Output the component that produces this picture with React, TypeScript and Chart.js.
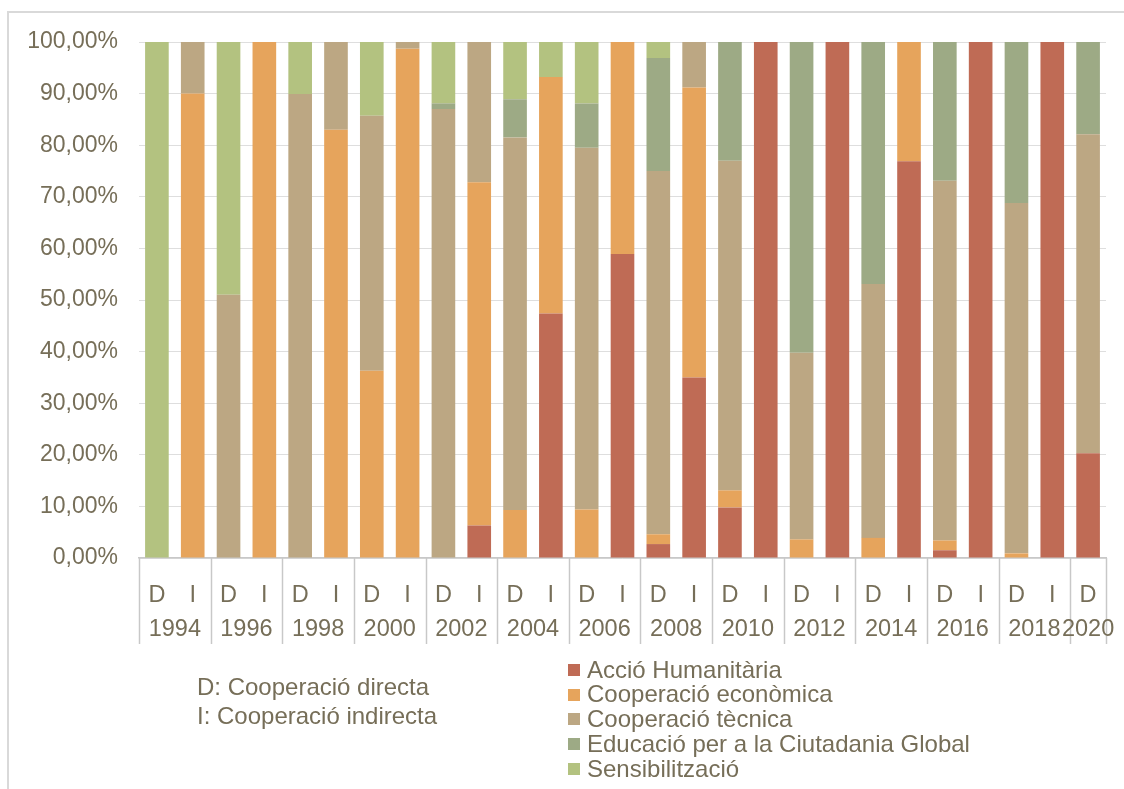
import React, { useEffect, useRef } from "react";
import { Chart, registerables } from "chart.js";

Chart.register(...registerables);

const categories = [
  "D", "I", "D", "I", "D", "I", "D", "I", "D", "I", "D", "I", "D", "I",
  "D", "I", "D", "I", "D", "I", "D", "I", "D", "I", "D", "I", "D",
];
const years = ["1994", "1996", "1998", "2000", "2002", "2004", "2006", "2008", "2010", "2012", "2014", "2016", "2018", "2020"];

const accioHumanitaria = [0, 0, 0, 0, 0, 0, 0, 0, 0, 6.3, 0, 47.4, 0, 58.9, 2.7, 35.0, 9.8, 100, 0, 100, 0, 76.9, 1.5, 100, 0, 100, 20.3];
const cooperacioEconomica = [0, 90.0, 0, 100, 0, 83.0, 36.3, 98.7, 0, 66.5, 9.3, 45.8, 9.4, 41.1, 1.9, 56.2, 3.3, 0, 3.6, 0, 3.9, 23.1, 1.9, 0, 0.9, 0, 0];
const cooperacioTecnica = [0, 10.0, 51.0, 0, 89.9, 17.0, 49.4, 1.3, 87.0, 27.2, 72.2, 0, 70.1, 0, 70.4, 8.8, 63.9, 0, 36.2, 0, 49.2, 0, 69.7, 0, 67.9, 0, 61.8];
const educacioCiutadania = [0, 0, 0, 0, 0, 0, 0, 0, 1.1, 0, 7.4, 0, 8.6, 0, 21.9, 0, 23.0, 0, 60.2, 0, 46.9, 0, 26.9, 0, 31.2, 0, 17.9];
const sensibilitzacio = [100, 0, 49.0, 0, 10.1, 0, 14.3, 0, 11.9, 0, 11.1, 6.8, 11.9, 0, 3.1, 0, 0, 0, 0, 0, 0, 0, 0, 0, 0, 0, 0];

const seriesNames = [
  "Acció Humanitària",
  "Cooperació econòmica",
  "Cooperació tècnica",
  "Educació per a la Ciutadania Global",
  "Sensibilització",
];
const seriesColors = ["#bf6b55", "#e6a45c", "#bca783", "#9daa85", "#b3c280"];

const TEXT = "#766e58";
const FONT = "'Liberation Sans', Arial, sans-serif";

const groupPlugin = {
  id: "yearGroups",
  afterDraw(chart: any) {
    const xs = chart.scales.x;
    const { ctx, chartArea } = chart;
    const half = (xs.getPixelForTick(1) - xs.getPixelForTick(0)) / 2;
    const top = chartArea.bottom;
    const bottom = chartArea.bottom + 86;
    ctx.save();
    ctx.strokeStyle = "#c8c8c8";
    ctx.lineWidth = 1.5;
    const n = categories.length;
    const bounds: number[] = [];
    for (let i = 0; i < n; i += 2) bounds.push(xs.getPixelForTick(i) - half);
    bounds.push(xs.getPixelForTick(n - 1) + half);
    for (const b of bounds) {
      ctx.beginPath();
      ctx.moveTo(Math.round(b) + 0.5, top);
      ctx.lineTo(Math.round(b) + 0.5, bottom);
      ctx.stroke();
    }
    ctx.fillStyle = TEXT;
    ctx.font = `23.5px ${FONT}`;
    ctx.textAlign = "center";
    ctx.textBaseline = "middle";
    years.forEach((y, g) => {
      const i0 = g * 2;
      const i1 = Math.min(g * 2 + 1, n - 1);
      const cx = (xs.getPixelForTick(i0) + xs.getPixelForTick(i1)) / 2;
      ctx.fillText(y, cx, chartArea.bottom + 72);
    });
    ctx.restore();
  },
};

export default function App() {
  const ref = useRef<HTMLCanvasElement>(null);
  useEffect(() => {
    const seriesData = [accioHumanitaria, cooperacioEconomica, cooperacioTecnica, educacioCiutadania, sensibilitzacio];
    const chart = new Chart(ref.current!, {
      type: "bar",
      data: {
        labels: categories,
        datasets: seriesNames.map((name, k) => ({
          label: name,
          data: seriesData[k],
          backgroundColor: seriesColors[k],
          borderWidth: 0,
          barPercentage: 0.66,
          categoryPercentage: 1,
        })),
      },
      options: {
        responsive: false,
        animation: false,
        layout: { padding: { left: 0, top: 42, right: 18, bottom: 131 } },
        plugins: { legend: { display: false }, tooltip: { enabled: false }, title: { display: false } },
        scales: {
          x: {
            stacked: true,
            grid: { display: false },
            border: { display: true, color: "#c8c8c8", width: 1.5 },
            ticks: {
              autoSkip: false,
              maxRotation: 0,
              padding: 15,
              color: TEXT,
              font: { family: FONT, size: 23.5 },
            },
            afterFit: (s: any) => {
              s.height = 100;
            },
          },
          y: {
            stacked: true,
            min: 0,
            max: 100,
            grid: { color: "#dedede", lineWidth: 1, drawTicks: false },
            border: { display: false },
            ticks: {
              stepSize: 10,
              padding: 21,
              color: TEXT,
              font: { family: FONT, size: 23 },
              callback: (v: any) => Number(v).toFixed(2).replace(".", ",") + "%",
            },
            afterFit: (s: any) => {
              s.width = 139;
            },
          },
        },
      },
      plugins: [groupPlugin],
    });
    return () => chart.destroy();
  }, []);

  return (
    <div
      style={{
        position: "absolute",
        left: 0,
        top: 0,
        width: 1124,
        height: 789,
        overflow: "hidden",
        background: "#fff",
        fontFamily: FONT,
        color: TEXT,
      }}
    >
      <div
        style={{
          position: "absolute",
          left: 7,
          top: 11,
          width: 1300,
          height: 1000,
          border: "2px solid #d9d9d9",
          boxSizing: "border-box",
        }}
      />
      <canvas ref={ref} width={1124} height={789} style={{ position: "absolute", left: 0, top: 0, display: "block" }} />
      <div style={{ position: "absolute", left: 197, top: 672, fontSize: 24, lineHeight: "29px", whiteSpace: "nowrap" }}>
        <div>D: Cooperació directa</div>
        <div>I: Cooperació indirecta</div>
      </div>
      <div style={{ position: "absolute", left: 568, top: 657.5, fontSize: 24, whiteSpace: "nowrap" }}>
        {seriesNames.map((name, k) => (
          <div key={name} style={{ height: 24.75, lineHeight: "24.75px", display: "flex", alignItems: "center" }}>
            <span style={{ display: "inline-block", width: 12, height: 12, background: seriesColors[k], marginRight: 7 }} />
            <span>{name}</span>
          </div>
        ))}
      </div>
    </div>
  );
}
